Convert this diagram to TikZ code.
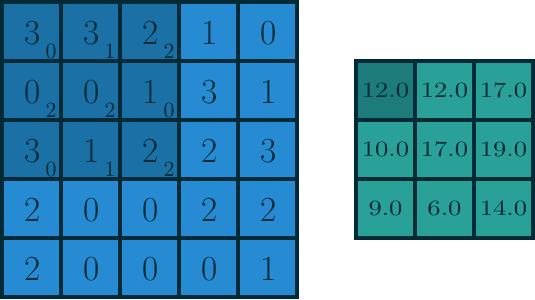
\documentclass[tikz,border=0pt]{standalone}
\usepackage{graphicx}
\definecolor{sblue}{HTML}{268BD2}
\definecolor{scyan}{HTML}{2AA198}
\definecolor{sbase}{HTML}{002B36}
\colorlet{kblue}{sblue!72!sbase}
\colorlet{kcyan}{scyan!68!sbase}
\tikzset{
  cellbox/.style={draw=sbase, line width=1.9pt, minimum size=1cm, inner sep=0pt, outer sep=0pt, anchor=center},
  digit/.style={text=sbase, font=\fontsize{17}{20}\selectfont, inner sep=0pt},
  subdigit/.style={text=sbase, font=\fontsize{10.5}{12}\selectfont, inner sep=0pt},
  outtext/.style={text=sbase, font=\fontsize{10.5}{12}\selectfont, inner sep=0pt}
}
\begin{document}
\begin{tikzpicture}
\useasboundingbox (-0.035,-0.035) rectangle (9.035,5.035);
% input grid
\foreach \row [count=\r from 0] in {{3,3,2,1,0},{0,0,1,3,1},{3,1,2,2,3},{2,0,0,2,2},{2,0,0,0,1}} {
  \foreach \v [count=\c from 0] in \row {
    \ifnum\r<3 \ifnum\c<3 \def\fc{kblue}\else\def\fc{sblue}\fi\else\def\fc{sblue}\fi
    \node[cellbox, fill=\fc] (i-\r-\c) at (\c+0.5, 4.5-\r) {};
    \node[digit] (t-\r-\c) at ([xshift=0.02cm,yshift=-0.02cm]i-\r-\c.center) {\v};
  }
}
% kernel subscripts
\foreach \row [count=\r from 0] in {{0,1,2},{2,2,0},{0,1,2}} {
  \foreach \v [count=\c from 0] in \row {
    \node[subdigit] (k-\r-\c) at ([xshift=0.33cm,yshift=-0.34cm]i-\r-\c.center) {\v};
  }
}
% output grid
\foreach \row [count=\r from 0] in {{12.0,12.0,17.0},{10.0,17.0,19.0},{9.0,6.0,14.0}} {
  \foreach \v [count=\c from 0] in \row {
    \ifnum\r=0 \ifnum\c=0 \def\fc{kcyan}\else\def\fc{scyan}\fi\else\def\fc{scyan}\fi
    \node[cellbox, fill=\fc] (o-\r-\c) at (6.5+\c, 3.5-\r) {};
    \node[outtext] (u-\r-\c) at (o-\r-\c.center) {\scalebox{1.22}[1]{\v}};
  }
}
\end{tikzpicture}
\end{document}
